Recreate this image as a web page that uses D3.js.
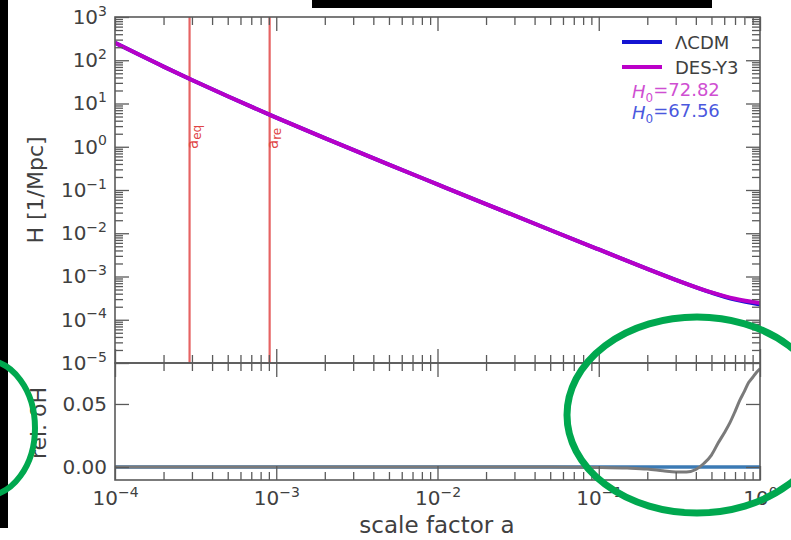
<!DOCTYPE html>
<html>
<head>
<meta charset="utf-8">
<script src="https://cdnjs.cloudflare.com/ajax/libs/d3/7.8.5/d3.min.js"></script>
<style>
  html, body { margin: 0; padding: 0; background: #fff; }
  svg { display: block; font-family: "DejaVu Sans", sans-serif; }
</style>
</head>
<body>
<script>
// ---- data ----
const aTop = [1e-4, 2e-4, 3e-4, 5e-4, 1e-3, 2e-3, 5e-3, 1e-2, 2e-2, 5e-2, 0.1, 0.2, 0.3, 0.5, 0.7, 1.0];
const hDES = [252, 71.3, 35.0, 14.7, 4.72, 1.58, 0.386, 0.135, 0.0473, 0.0119, 0.00422, 0.00150, 0.000835, 0.000428, 0.000305, 0.000243];
const hLCDM = [252, 71.3, 35.0, 14.7, 4.72, 1.58, 0.386, 0.135, 0.0473, 0.0119, 0.00422, 0.00150, 0.000838, 0.000424, 0.000292, 0.000225];
const aRel = [1e-4, 1e-3, 1e-2, 0.05, 0.1, 0.15, 0.2, 0.25, 0.3, 0.35, 0.4, 0.45, 0.5, 0.55, 0.6, 0.65, 0.7, 0.75, 0.8, 0.85, 0.9, 0.95, 1.0];
const relDH = [0, 0, 0, 0, -0.0003, -0.0008, -0.0016, -0.003, -0.004, -0.004, -0.002, 0.003, 0.0095, 0.019, 0.027, 0.035, 0.044, 0.053, 0.060, 0.067, 0.071, 0.075, 0.078];
const relLCDM = [0, 0];
const relLCDMa = [1e-4, 1];
const xMajor = [1e-4, 1e-3, 1e-2, 1e-1, 1];
const xMajorExp = ["−4", "−3", "−2", "−1", "0"];
const yMajor = [1e-5, 1e-4, 1e-3, 1e-2, 1e-1, 1, 10, 100, 1000];
const yMajorExp = ["−5", "−4", "−3", "−2", "−1", "0", "1", "2", "3"];
const yBotTicks = [0.00, 0.05];
const vLines = [{a: 2.9e-4, base: "a", sub: "eq"}, {a: 9.1e-4, base: "a", sub: "re"}];
const legendItems = [{label: "ΛCDM", color: "#1414d2"}, {label: "DES-Y3", color: "#bb00c8"}];
const h0Labels = [{value: "72.82", color: "#cf4fd2"}, {value: "67.56", color: "#4b58de"}];

// ---- layout ----
const W = 791, H = 540;
const L = 115, R = 760, T1 = 17, B1 = 363, B2 = 480;
const axisCol = "#5a5a5a", textCol = "#404040";

const svg = d3.select("body").append("svg").attr("width", W).attr("height", H);
svg.append("rect").attr("width", W).attr("height", H).attr("fill", "#fff");

const x = d3.scaleLog().domain([1e-4, 1]).range([L, R]);
const yTop = d3.scaleLog().domain([1e-5, 1e3]).range([B1, T1]);
const yBot = d3.scaleLinear().domain([-0.0103, 0.0825]).range([B2, B1]);

function minorLog(lo, hi) {
  const out = [];
  for (let e = lo; e < hi; e++) for (let k = 2; k <= 9; k++) out.push(k * Math.pow(10, e));
  return out;
}
const xMinor = minorLog(-4, 0);
const yMinor = minorLog(-5, 3);

function styleAxis(g) {
  g.select(".domain").remove();
  g.selectAll(".tick line").attr("stroke", axisCol).attr("stroke-width", 1.3);
  g.selectAll(".tick text").attr("fill", textCol).attr("font-size", 20).attr("font-family", "DejaVu Sans, sans-serif");
}
function supLabels(g, exps) {
  g.selectAll(".tick text").each(function(d, i) {
    const t = d3.select(this);
    t.text(null);
    t.append("tspan").text("10");
    t.append("tspan").attr("dy", "-0.6em").attr("font-size", 14).text(exps[i]);
  });
}

// ---- top panel ----
svg.append("clipPath").attr("id", "c1").append("rect").attr("x", L).attr("y", T1).attr("width", R - L).attr("height", B1 - T1);
svg.append("clipPath").attr("id", "c2").append("rect").attr("x", L).attr("y", B1).attr("width", R - L).attr("height", B2 - B1);

const gTop = svg.append("g").attr("clip-path", "url(#c1)");
vLines.forEach(v => {
  gTop.append("line").attr("x1", x(v.a)).attr("x2", x(v.a)).attr("y1", T1).attr("y2", B1)
    .attr("stroke", "#e24848").attr("stroke-opacity", 0.85).attr("stroke-width", 2.2);
  const t = svg.append("text")
    .attr("transform", `translate(${x(v.a) + 8},${149}) rotate(-90)`)
    .attr("fill", "#e04545").attr("font-size", 15);
  t.append("tspan").text(v.base);
  t.append("tspan").attr("dy", "0.3em").attr("font-size", 12).text(v.sub);
});

const lineTop = d3.line().curve(d3.curveMonotoneX);
gTop.append("path")
  .attr("d", lineTop(aTop.map((a, i) => [x(a), yTop(hLCDM[i])])))
  .attr("fill", "none").attr("stroke", "#1414d2").attr("stroke-width", 4);
gTop.append("path")
  .attr("d", lineTop(aTop.map((a, i) => [x(a), yTop(hDES[i])])))
  .attr("fill", "none").attr("stroke", "#b800c8").attr("stroke-width", 4);

// top axes
const axTopL = svg.append("g").attr("transform", `translate(${L},0)`)
  .call(d3.axisLeft(yTop).tickValues(yMajor).tickSize(-14).tickPadding(8));
styleAxis(axTopL); supLabels(axTopL, yMajorExp);
const axTopLm = svg.append("g").attr("transform", `translate(${L},0)`)
  .call(d3.axisLeft(yTop).tickValues(yMinor).tickSize(-8).tickFormat(""));
styleAxis(axTopLm);
const axTopR = svg.append("g").attr("transform", `translate(${R},0)`)
  .call(d3.axisRight(yTop).tickValues(yMajor).tickSize(-14).tickFormat(""));
styleAxis(axTopR);
const axTopRm = svg.append("g").attr("transform", `translate(${R},0)`)
  .call(d3.axisRight(yTop).tickValues(yMinor).tickSize(-8).tickFormat(""));
styleAxis(axTopRm);
[[T1, d3.axisTop], [B1, d3.axisBottom]].forEach(([yy, fn]) => {
  const g1 = svg.append("g").attr("transform", `translate(0,${yy})`)
    .call(fn(x).tickValues(xMajor).tickSize(-14).tickFormat(""));
  styleAxis(g1);
  const g2 = svg.append("g").attr("transform", `translate(0,${yy})`)
    .call(fn(x).tickValues(xMinor).tickSize(-8).tickFormat(""));
  styleAxis(g2);
});

// ---- bottom panel ----
const gBot = svg.append("g").attr("clip-path", "url(#c2)");
gBot.append("path")
  .attr("d", d3.line()(relLCDMa.map((a, i) => [x(a), yBot(relLCDM[i])])))
  .attr("fill", "none").attr("stroke", "#3b7ab4").attr("stroke-width", 3.5);
gBot.append("path")
  .attr("d", d3.line().curve(d3.curveMonotoneX)(aRel.map((a, i) => [x(a), yBot(relDH[i])])))
  .attr("fill", "none").attr("stroke", "#7a7a7a").attr("stroke-width", 3);

const axBotL = svg.append("g").attr("transform", `translate(${L},0)`)
  .call(d3.axisLeft(yBot).tickValues(yBotTicks).tickSize(-14).tickPadding(8).tickFormat(d3.format(".2f")));
styleAxis(axBotL);
const axBotR = svg.append("g").attr("transform", `translate(${R},0)`)
  .call(d3.axisRight(yBot).tickValues(yBotTicks).tickSize(-14).tickFormat(""));
styleAxis(axBotR);
[[B1, d3.axisTop], [B2, d3.axisBottom]].forEach(([yy, fn], k) => {
  const g1 = svg.append("g").attr("transform", `translate(0,${yy})`)
    .call(fn(x).tickValues(xMajor).tickSize(-14).tickPadding(11));
  styleAxis(g1);
  if (k === 1) supLabels(g1, xMajorExp); else g1.selectAll(".tick text").remove();
  const g2 = svg.append("g").attr("transform", `translate(0,${yy})`)
    .call(fn(x).tickValues(xMinor).tickSize(-8).tickFormat(""));
  styleAxis(g2);
});

// frames
svg.append("rect").attr("x", L).attr("y", T1).attr("width", R - L).attr("height", B1 - T1)
  .attr("fill", "none").attr("stroke", axisCol).attr("stroke-width", 1.6);
svg.append("rect").attr("x", L).attr("y", B1).attr("width", R - L).attr("height", B2 - B1)
  .attr("fill", "none").attr("stroke", axisCol).attr("stroke-width", 1.6);

// axis labels
svg.append("text").attr("transform", `translate(35,190) rotate(-90)`)
  .attr("text-anchor", "middle").attr("dominant-baseline", "central")
  .attr("fill", textCol).attr("font-size", 22).text("H [1/Mpc]");
svg.append("text").attr("transform", `translate(38,423) rotate(-90)`)
  .attr("text-anchor", "middle").attr("dominant-baseline", "central")
  .attr("fill", textCol).attr("font-size", 22).text("rel. δH");
svg.append("text").attr("x", 437).attr("y", 533).attr("text-anchor", "middle")
  .attr("fill", textCol).attr("font-size", 23).text("scale factor a");

// legend
legendItems.forEach((it, i) => {
  const yy = 42 + i * 25;
  svg.append("line").attr("x1", 622).attr("x2", 662).attr("y1", yy).attr("y2", yy)
    .attr("stroke", it.color).attr("stroke-width", 4);
  svg.append("text").attr("x", 675).attr("y", yy + 7).attr("fill", textCol)
    .attr("font-size", 18).text(it.label);
});
h0Labels.forEach((it, i) => {
  const t = svg.append("text").attr("x", 632).attr("y", 98 + i * 21).attr("fill", it.color).attr("font-size", 18);
  t.append("tspan").attr("font-style", "italic").text("H");
  t.append("tspan").attr("dy", "0.3em").attr("font-size", 12).text("0");
  t.append("tspan").attr("dy", "-0.3em").attr("font-size", 18).text("=" + it.value);
});

// screenshot artefacts: black bars and green highlight ellipses
svg.append("rect").attr("x", 0).attr("y", 0).attr("width", 8).attr("height", 528).attr("fill", "#000");
svg.append("rect").attr("x", 312).attr("y", 0).attr("width", 400).attr("height", 8).attr("fill", "#000");
svg.append("ellipse").attr("cx", -15).attr("cy", 428).attr("rx", 50).attr("ry", 68)
  .attr("fill", "none").attr("stroke", "#00a84f").attr("stroke-width", 6);
svg.append("ellipse").attr("cx", 697).attr("cy", 415).attr("rx", 130).attr("ry", 98)
  .attr("fill", "none").attr("stroke", "#00a84f").attr("stroke-width", 7);
</script>
</body>
</html>
